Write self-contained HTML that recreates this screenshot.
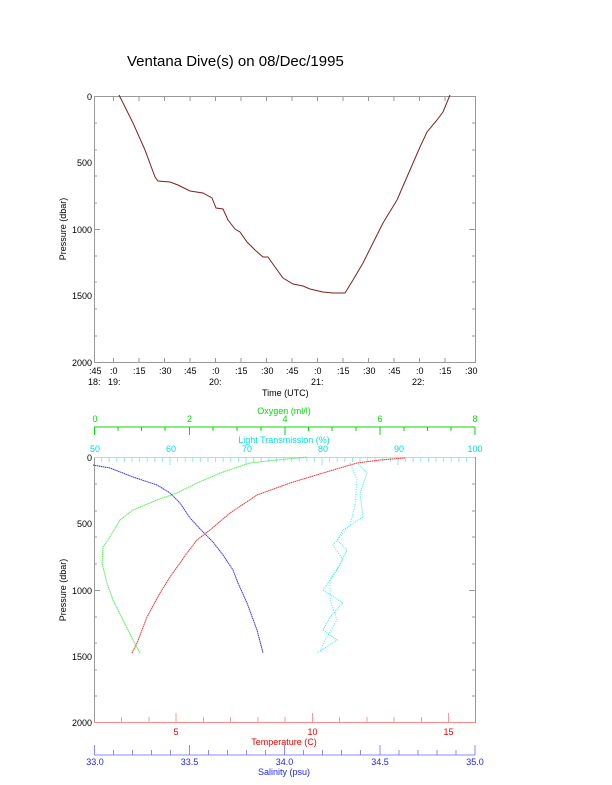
<!DOCTYPE html>
<html><head><style>
html,body{margin:0;padding:0;background:#fff;}
svg{display:block;font-family:"Liberation Sans",sans-serif;}
</style></head><body>
<svg width="612" height="785" viewBox="0 0 612 785" xmlns="http://www.w3.org/2000/svg">
<text x="127" y="66" font-size="15">Ventana Dive(s) on 08/Dec/1995</text>

<!-- TOP PLOT -->
<g stroke="#999" fill="none" stroke-width="1">
<rect x="94.5" y="96.5" width="381" height="266"/>
</g>
<g stroke="#999" stroke-width="1">
<path d="M94 96.5h6M94 123h3M94 150h3M94 176h3M94 203h3M94 229.5h6M94 256h3M94 282h3M94 309h3M94 336h3M94 362.5h6"/>
<path d="M475 96.5h-6M475 123h-3M475 150h-3M475 176h-3M475 203h-3M475 229.5h-6M475 256h-3M475 282h-3M475 309h-3M475 336h-3M475 362.5h-6"/>
<path d="M113.5 97v4M139 97v4M164.5 97v4M190 97v4M215.5 97v4M241 97v4M266.5 97v4M292 97v4M317.5 97v4M343 97v4M368.5 97v4M394 97v4M419.5 97v4M445 97v4"/>
<path d="M113.5 362v-4M139 362v-4M164.5 362v-4M190 362v-4M215.5 362v-4M241 362v-4M266.5 362v-4M292 362v-4M317.5 362v-4M343 362v-4M368.5 362v-4M394 362v-4M419.5 362v-4M445 362v-4"/>
</g>
<g font-size="9" text-anchor="end">
<text x="92" y="100">0</text><text x="92" y="233">1000</text><text x="92" y="366">2000</text>
<text x="92" y="166" >500</text><text x="92" y="299">1500</text>
</g>
<g font-size="9">
<text x="89" y="374">:45</text><text x="110" y="374">:0</text><text x="133" y="374">:15</text><text x="159" y="374">:30</text><text x="184" y="374">:45</text><text x="212" y="374">:0</text><text x="235" y="374">:15</text><text x="261" y="374">:30</text><text x="286" y="374">:45</text><text x="314" y="374">:0</text><text x="337" y="374">:15</text><text x="363" y="374">:30</text><text x="388" y="374">:45</text><text x="416" y="374">:0</text><text x="439" y="374">:15</text><text x="465" y="374">:30</text>
<text x="88" y="385">18:</text><text x="108" y="385">19:</text><text x="209" y="385">20:</text><text x="311" y="385">21:</text><text x="412" y="385">22:</text>
</g>
<text x="262" y="396" font-size="9">Time (UTC)</text>
<text x="66" y="229" font-size="9" transform="rotate(-90 66 229)" text-anchor="middle">Pressure (dbar)</text>
<polyline fill="none" stroke="#802020" stroke-width="1" points="119,95 133,123 145,150 155,177 158,181 170,182 178,185 190,191 203,193 212,198 216,208 223,209 228,220 235,229 240,232 247,242 255,250 263,257 268,257 275,267 283,278 293,284 303,286 310,289 323,292 333,293 345,293 353,280 363,263 373,243 383,223 397,200 410,170 420,147 427,132 437,120 443,112 450,95"/>

<!-- BOTTOM PLOT -->
<g stroke="#00dd00" stroke-width="1">
<path d="M94 427h381"/>
<path d="M94.5 427v8M118 427v4M141.5 427v4M165 427v4M189.5 427v8M213 427v4M237 427v4M261 427v4M285 427v8M308.5 427v4M332 427v4M356 427v4M380 427v8M404 427v4M427.5 427v4M451 427v4M475 427v8"/>
</g>
<g font-size="9" fill="#00dd00" text-anchor="middle">
<text x="95" y="422">0</text><text x="189.5" y="422">2</text><text x="285" y="422">4</text><text x="380" y="422">6</text><text x="475" y="422">8</text>
<text x="284" y="414">Oxygen (ml/l)</text>
</g>
<g font-size="9" fill="#00dddd" text-anchor="middle">
<text x="95" y="452">50</text><text x="171" y="452">60</text><text x="247" y="452">70</text><text x="323" y="452">80</text><text x="399" y="452">90</text><text x="475" y="452">100</text>
<text x="284" y="443">Light Transmission (%)</text>
</g>
<rect x="94.5" y="457.5" width="381" height="265" fill="none" stroke="#999"/>
<path d="M94 457.5h381" stroke="#88eeee"/>
<g stroke="#88eeee">
<path d="M101.6 458v4M109.2 458v4M116.8 458v4M124.4 458v4M132 458v4M139.6 458v4M147.2 458v4M154.8 458v4M162.4 458v4M170 458v7M177.6 458v4M185.2 458v4M192.8 458v4M200.4 458v4M208 458v4M215.6 458v4M223.2 458v4M230.8 458v4M238.4 458v4M246 458v7M253.6 458v4M261.2 458v4M268.8 458v4M276.4 458v4M284 458v4M291.6 458v4M299.2 458v4M306.8 458v4M314.4 458v4M322 458v7M329.6 458v4M337.2 458v4M344.8 458v4M352.4 458v4M360 458v4M367.6 458v4M375.2 458v4M382.8 458v4M390.4 458v4M398 458v7M405.6 458v4M413.2 458v4M420.8 458v4M428.4 458v4M436 458v4M443.6 458v4M451.2 458v4M458.8 458v4M466.4 458v4"/>
</g>
<g stroke="#999">
<path d="M94 484h3M94 511h3M94 537h3M94 564h3M94 590.5h6M94 617h3M94 643h3M94 670h3M94 696h3"/>
<path d="M475 484h-3M475 511h-3M475 537h-3M475 564h-3M475 590.5h-6M475 617h-3M475 643h-3M475 670h-3M475 696h-3"/>
</g>
<g font-size="9" text-anchor="end">
<text x="92" y="461">0</text><text x="92" y="527">500</text><text x="92" y="594">1000</text><text x="92" y="660">1500</text><text x="92" y="726">2000</text>
</g>
<text x="66" y="590" font-size="9" transform="rotate(-90 66 590)" text-anchor="middle">Pressure (dbar)</text>
<path d="M94 722.5h381" stroke="#ff8888"/>
<g stroke="#ff9999">
<path d="M121.5 722v-5M149 722v-5M176 722v-9M203.5 722v-5M230.5 722v-5M258 722v-5M285 722v-5M312.5 722v-9M339.5 722v-5M367 722v-5M394 722v-5M421.5 722v-5M448.5 722v-9"/>
</g>
<g font-size="9" fill="#ee0000" text-anchor="middle">
<text x="176" y="735">5</text><text x="312.5" y="735">10</text><text x="448.5" y="735">15</text>
<text x="284" y="745">Temperature (C)</text>
</g>
<path d="M94 755h381" stroke="#8888ff"/>
<g stroke="#8888ff">
<path d="M94.5 755v-10M113.5 755v-5M132.5 755v-5M151.5 755v-5M170.5 755v-5M189.5 755v-10M208.5 755v-5M227.5 755v-5M246.5 755v-5M265.5 755v-5M284.5 755v-10M303.5 755v-5M322.5 755v-5M341.5 755v-5M360.5 755v-5M380 755v-10M399 755v-5M418 755v-5M437 755v-5M456 755v-5M475 755v-10"/>
</g>
<g font-size="9" fill="#2222ee" text-anchor="middle">
<text x="95" y="765">33.0</text><text x="189.5" y="765">33.5</text><text x="284.5" y="765">34.0</text><text x="380" y="765">34.5</text><text x="475" y="765">35.0</text>
<text x="284" y="775">Salinity (psu)</text>
</g>
<g fill="none" stroke-width="1">
<polyline stroke="#55ee55" stroke-dasharray="1.5 0.5" points="140,653 133,640 123,620 113,600 107,583 102,563 103,547 108,540 120,520 133,510 157,500 177,493 197,483 223,472 250,463 277,460 307,457"/>
<polyline stroke="#ee3333" stroke-dasharray="1.5 0.5" points="132,653 137,643 147,617 160,593 170,577 187,553 197,540 210,530 230,513 257,495 290,483 323,473 357,463 380,460 405,458"/>
<polyline stroke="#3333ee" stroke-dasharray="1.5 0.5" points="93,465 110,468 133,477 157,485 170,493 180,503 190,518 203,532 213,542 223,555 233,570 238,583 247,603 257,630 263,653"/>
<polyline stroke="#33eeee" stroke-dasharray="1 1" points="357,463 367,473 360,493 363,517 343,530 337,540 347,550 337,570 323,590 343,603 330,617 323,630 337,640 317,653"/>
<polyline stroke="#33eeee" stroke-dasharray="1 1.5" points="350,463 357,480 355,505 350,525 333,545 343,560 330,580 330,600 337,620 325,640 320,652"/>
</g>
</svg>
</body></html>
